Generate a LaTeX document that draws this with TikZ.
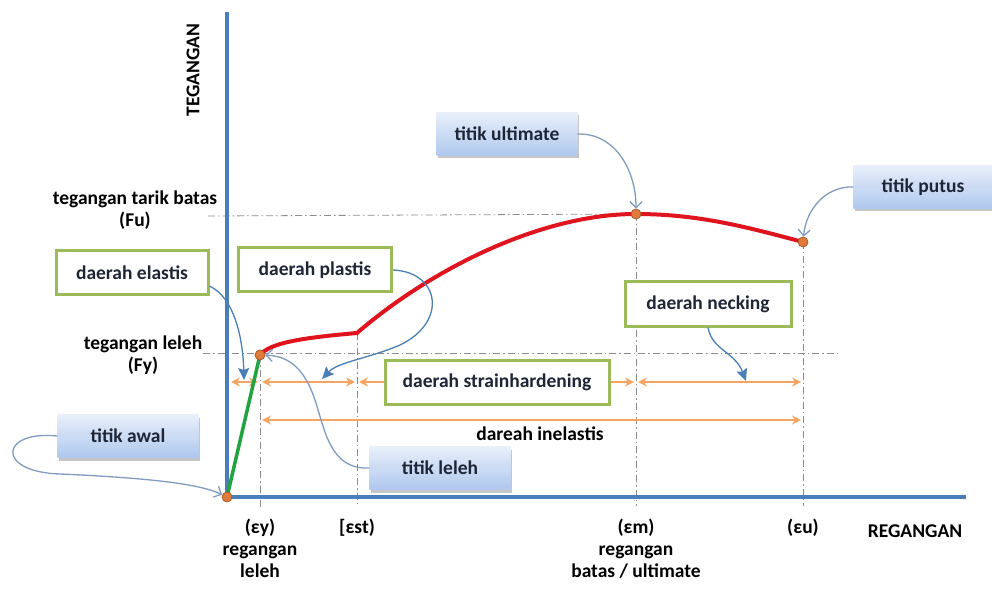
\documentclass[tikz,border=0pt]{standalone}
\usepackage{fontspec}
\setmainfont{Carlito}
\usetikzlibrary{arrows,arrows.meta,shadows}

\definecolor{axisblue}{HTML}{4A7EBB}
\definecolor{curvered}{HTML}{E0141E}
\definecolor{elasgreen}{HTML}{22A33F}
\definecolor{zoneorange}{HTML}{F5A462}
\definecolor{dotorange}{HTML}{E07B39}
\definecolor{boxgreen}{HTML}{9BBB59}
\definecolor{callblue}{HTML}{7F9CC0}
\definecolor{tipblue}{HTML}{3C78B4}
\definecolor{tagtop}{HTML}{E8EFFA}
\definecolor{tagbottom}{HTML}{AFC8EE}
\definecolor{guidegrey}{HTML}{8C8C8C}
\definecolor{inkdark}{HTML}{1E2636}

\begin{document}
\begin{tikzpicture}[x=1pt,y=-1pt,font=\fontsize{19.5}{22}\selectfont\bfseries]
    \useasboundingbox (0,0) rectangle (992,593);

    \coordinate (ytop) at (227,12);
    \coordinate (xend) at (966,497);
    \coordinate (P0) at (227,497);
    \coordinate (Py) at (260,355);
    \coordinate (Pst) at (357,333);
    \coordinate (Pm) at (636,214);
    \coordinate (Pu) at (803,242);
    \coordinate (fu0) at (208,216);
    \coordinate (fy0) at (203,353);
    \coordinate (fy1) at (838,353);
    \coordinate (vy) at (260,510);
    \coordinate (vst) at (357,506);
    \coordinate (vm) at (636,506);
    \coordinate (vu) at (803,506);
    \coordinate (a0) at (229,382);
    \coordinate (a1) at (260,382);
    \coordinate (a2) at (357,382);
    \coordinate (a3) at (636,382);
    \coordinate (a4) at (803,382);
    \coordinate (b1) at (260,420);
    \coordinate (b4) at (803,420);
    \coordinate (ce) at (244,380);
    \coordinate (cp) at (322,379);
    \coordinate (cn) at (746,381);

    \begin{scope}[guidegrey, line width=0.8pt, dash pattern=on 7pt off 3pt on 1.5pt off 3pt]
        \draw (fu0) -- (Pm);
        \draw (fy0) -- (fy1);
        \draw (Py) -- (vy);
        \draw (Pst) -- (vst);
        \draw (Pm) -- (vm);
        \draw (Pu) -- (vu);
    \end{scope}

    \begin{scope}[<->,>={Stealth[length=9pt,width=9pt]}, zoneorange, line width=2pt, shorten <=2pt, shorten >=2pt]
        \draw (a0) -- (a1);
        \draw (a1) -- (a2);
        \draw (a2) -- (a3);
        \draw (a3) -- (a4);
        \draw (b1) -- (b4);
    \end{scope}

    \draw[axisblue, line width=3.5pt] (ytop) -- (P0) -- (xend);
    \draw[elasgreen, line width=3.5pt] (P0) -- (Py);
    \draw[curvered, line width=4pt, line join=round]
        (Py) .. controls (270,343) and (300,338) .. (Pst)
             .. controls (430,270) and (540,214) .. (Pm)
             .. controls (700,214) and (750,228) .. (Pu);

    \begin{scope}[every node/.style={circle, draw=dotorange!75!black, fill=dotorange, line width=0.8pt, inner sep=0pt, minimum size=10pt}]
        \node (d0) at (P0) {};
        \node (dy) at (Py) {};
        \node (dm) at (Pm) {};
        \node (du) at (Pu) {};
    \end{scope}

    \begin{scope}[every node/.style={draw=boxgreen, line width=3pt, fill=white, text=inkdark, minimum height=44pt}]
        \node[minimum width=152pt] (elastis) at (132,273) {daerah elastis};
        \node[minimum width=153pt] (plastis) at (315,270) {daerah plastis};
        \node[minimum width=224pt] (hardening) at (497,382) {daerah strainhardening};
        \node[minimum width=166pt] (necking) at (708,304) {daerah necking};
    \end{scope}

    \begin{scope}[every node/.style={top color=tagtop, bottom color=tagbottom, text=inkdark, minimum height=43pt,
                  drop shadow={shadow xshift=1pt, shadow yshift=-3pt, opacity=0.45}}]
        \node[minimum width=141pt] (awal) at (128,436) {titik awal};
        \node[minimum width=141pt] (leleh) at (440,468) {titik leleh};
        \node[minimum width=141pt] (ultimate) at (507,134) {titik ultimate};
        \node[minimum width=139pt] (putus) at (923,187) {titik putus};
    \end{scope}

    \begin{scope}[callblue, line width=1.3pt]
        \draw[-{Straight Barb[length=6pt,width=12pt]}] (awal.west)
            .. controls (0,430) and (-5,472) .. (60,474)
            .. controls (150,478) and (200,484) .. (d0);
        \draw[-{Straight Barb[length=6pt,width=12pt]}] (leleh.west)
            .. controls (330,470) and (325,430) .. (315,400)
            .. controls (305,370) and (290,356) .. (dy);
        \draw[-{Straight Barb[length=6pt,width=12pt]}] (ultimate.east)
            .. controls (615,133) and (636,170) .. (dm);
        \draw[-{Straight Barb[length=6pt,width=12pt]}] (putus.west)
            .. controls (825,186) and (806,210) .. (du);
        \draw[-{Stealth[length=12pt,width=11pt,inset=2pt]}, tipblue!80!callblue] (elastis.east|-0,286)
            .. controls (235,298) and (243,340) .. (ce);
        \draw[-{Stealth[length=12pt,width=11pt,inset=2pt]}, tipblue!80!callblue] (plastis.east)
            .. controls (440,272) and (448,322) .. (400,345)
            .. controls (370,358) and (338,362) .. (cp);
        \draw[-{Stealth[length=12pt,width=11pt,inset=2pt]}, tipblue!80!callblue] (necking.south)
            .. controls (712,350) and (735,352) .. (cn);
    \end{scope}

    \begin{scope}[every node/.style={text=black, align=center, inner sep=1pt}]
        \node[rotate=90] (tegangan) at (193,70) {TEGANGAN};
        \node (fu) at (135,210) {tegangan tarik batas\\(Fu)};
        \node (fy) at (143,355) {tegangan leleh\\(Fy)};
        \node[anchor=north] (ey) at (260,518) {(εy)\\regangan\\leleh};
        \node[anchor=north] (est) at (357,518) {[εst)};
        \node[anchor=north] (em) at (636,518) {(εm)\\regangan\\batas / ultimate};
        \node[anchor=north] (eu) at (803,518) {(εu)};
        \node (regangan) at (915,531) {REGANGAN};
        \node (inelastis) at (540,434) {dareah inelastis};
    \end{scope}
\end{tikzpicture}
\end{document}
